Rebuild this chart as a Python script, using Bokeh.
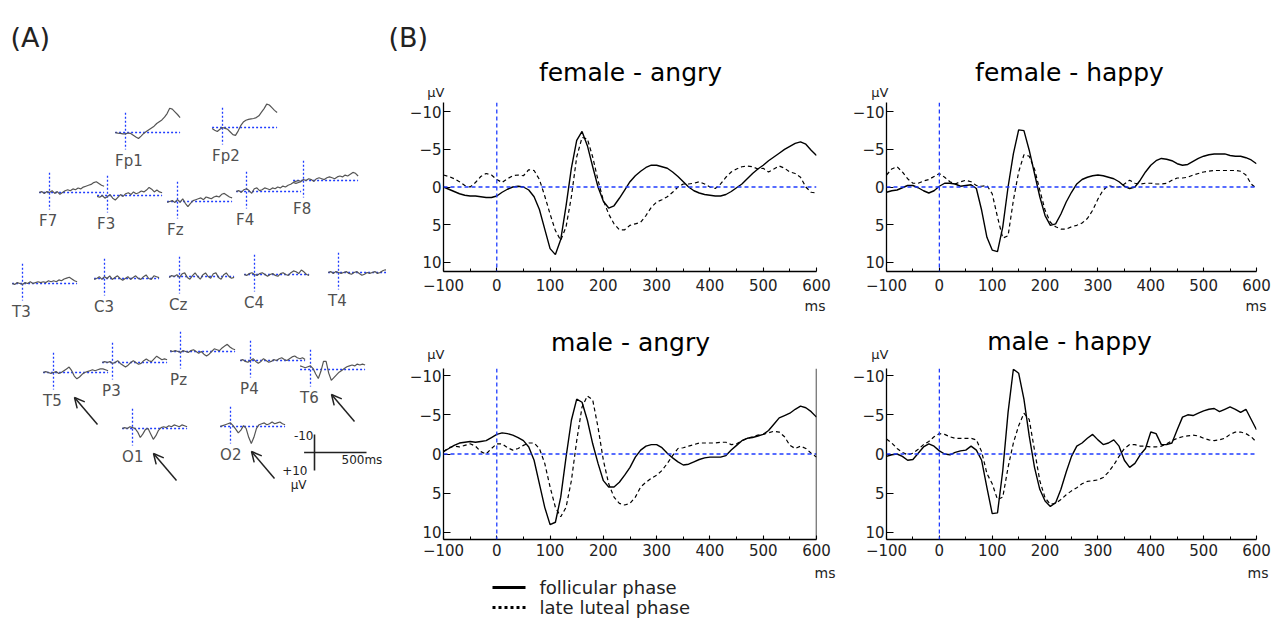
import numpy as np
from bokeh.plotting import figure
from bokeh.models import (Range1d, FixedTicker, Span, Arrow, OpenHead, ColumnDataSource)
from bokeh.layouts import row, column
from bokeh.embed import file_html
from bokeh.resources import INLINE
from bokeh.core.properties import value

FONT = "DejaVu Sans"
BLUE = "#1f3cff"
INK = "#222222"

# ---------------- panel B data (ms, uV; negative up) ----------------
t_ms = list(range(-100, 601, 10))

fa_follicular = [0.0, 0.3, 0.6, 0.9, 1.1, 1.2, 1.2, 1.3, 1.4, 1.4,
                 1.2, 0.7, 0.3, 0.0, -0.1, 0.0, 0.4, 1.3, 3.0, 5.6,
                 8.2, 9.0, 7.0, 2.5, -2.5, -6.2, -7.4, -5.5, -2.7, 0.0,
                 1.9, 2.8, 2.5, 1.5, 0.4, -0.7, -1.5, -2.1, -2.6, -2.9,
                 -2.9, -2.7, -2.5, -2.0, -1.4, -0.7, 0.0, 0.5, 0.8, 1.0,
                 1.1, 1.2, 1.2, 1.0, 0.6, 0.1, -0.4, -1.1, -1.8, -2.4,
                 -2.9, -3.5, -4.0, -4.5, -5.0, -5.4, -5.8, -6.0, -5.7, -4.9,
                 -4.2]
fa_luteal = [-1.6, -1.4, -1.1, -0.7, -0.2, 0.0, -0.6, -1.4, -1.8, -1.6,
             -1.0, -0.6, -1.1, -1.5, -1.6, -1.5, -2.3, -2.2, -1.0, 1.2,
             3.6, 5.8, 7.1, 5.3, 1.3, -4.0, -6.6, -6.4, -4.0, -0.9,
             1.8, 3.6, 4.9, 5.7, 5.7, 5.1, 4.9, 4.7, 3.8, 2.7,
             2.0, 1.7, 1.3, 0.7, 0.0, -0.4, -0.4, -0.5, -0.7, -0.4,
             0.0, 0.2, -0.4, -1.3, -2.0, -2.4, -2.7, -2.8, -2.7, -2.4,
             -2.5, -2.0, -2.4, -2.8, -2.5, -2.0, -1.8, -1.3, 0.0, 0.7,
             0.8]
fh_follicular = [0.7, 0.5, 0.4, 0.1, -0.2, -0.2, 0.1, 0.5, 0.8, 0.5,
                 -0.1, -0.5, -0.5, -0.4, -0.1, -0.2, -0.3, 0.2, 3.1, 6.7,
                 8.4, 8.6, 5.3, 0.0, -4.4, -7.6, -7.5, -4.9, -1.8, 1.3,
                 3.8, 5.1, 4.9, 3.6, 2.0, 0.7, -0.4, -1.0, -1.3, -1.5,
                 -1.6, -1.5, -1.3, -1.1, -0.7, -0.1, 0.2, 0.0, -0.9, -2.0,
                 -2.9, -3.5, -3.8, -3.7, -3.5, -3.1, -2.9, -3.0, -3.4, -3.8,
                 -4.1, -4.3, -4.4, -4.4, -4.4, -4.2, -4.1, -4.1, -3.9, -3.6,
                 -3.1]
fh_luteal = [-1.6, -2.4, -2.7, -2.0, -1.1, -0.5, -0.5, -0.8, -1.0, -1.4,
             -1.8, -1.3, -0.7, -0.4, -0.7, -0.9, -0.7, -0.2, -0.1, -0.2,
             0.9, 4.0, 6.8, 6.5, 1.8, -2.0, -4.3, -4.1, -2.4, 0.4,
             3.1, 4.7, 5.3, 5.6, 5.6, 5.3, 5.1, 4.8, 4.2, 3.1,
             1.6, 0.4, -0.2, 0.0, 0.0, -0.4, -0.9, -0.5, -0.4, -0.5,
             -0.5, -0.4, -0.4, -0.5, -0.9, -1.2, -1.2, -1.3, -1.6, -1.8,
             -2.0, -2.1, -2.2, -2.2, -2.2, -2.2, -2.2, -2.1, -1.6, -0.4,
             0.2]
ma_follicular = [-0.3, -0.7, -1.1, -1.4, -1.5, -1.6, -1.5, -1.6, -1.7, -2.1,
                 -2.5, -2.7, -2.6, -2.4, -2.1, -1.7, -0.9, 0.8, 3.8, 6.8,
                 9.0, 8.7, 5.5, 0.4, -4.3, -7.0, -6.6, -4.3, -1.3, 1.2,
                 3.4, 4.2, 4.2, 3.6, 2.7, 1.7, 0.4, -0.5, -1.0, -1.2,
                 -1.2, -0.8, -0.1, 0.5, 1.0, 1.4, 1.3, 1.0, 0.7, 0.5,
                 0.4, 0.4, 0.4, 0.2, -0.5, -1.1, -1.7, -2.0, -2.1, -2.3,
                 -2.5, -3.0, -3.8, -4.6, -4.9, -5.2, -5.7, -6.1, -5.9, -5.4,
                 -4.7]
ma_luteal = [-0.3, -0.8, -1.0, -0.9, -1.1, -1.3, -1.0, -0.3, 0.0, -0.7,
             -1.3, -1.3, -0.8, -0.5, -0.7, -1.1, -1.4, -1.4, -0.7, 1.2,
             4.2, 6.8, 8.0, 6.8, 3.4, -1.7, -6.0, -7.4, -6.9, -3.4,
             0.8, 3.8, 5.5, 6.3, 6.5, 6.3, 5.5, 4.2, 3.6, 3.1,
             2.7, 2.1, 1.2, 0.2, -0.7, -0.8, -1.0, -1.2, -1.4, -1.4,
             -1.4, -1.4, -1.5, -1.5, -1.2, -1.3, -1.7, -2.0, -2.2, -2.4,
             -2.5, -2.7, -2.9, -2.8, -2.2, -1.1, -0.7, -1.0, -0.7, -0.1,
             0.4]
mh_follicular = [0.3, 0.1, 0.0, 0.3, 0.8, 0.7, -0.1, -0.9, -1.3, -1.0,
                 -0.4, 0.0, 0.1, -0.2, -0.4, -0.5, -1.0, -0.5, 0.8, 4.3,
                 7.6, 7.5, 2.1, -5.3, -10.8, -10.3, -7.0, -2.3, 1.7, 4.5,
                 6.0, 6.7, 6.2, 4.5, 2.3, 0.3, -1.0, -1.4, -2.0, -2.5,
                 -1.8, -1.2, -1.4, -1.8, -1.0, 0.8, 1.7, 1.2, 0.1, -0.7,
                 -2.8, -2.6, -1.2, -1.2, -1.4, -3.1, -4.7, -5.0, -4.9, -5.2,
                 -5.5, -5.7, -5.8, -5.4, -5.7, -6.0, -5.7, -5.3, -5.7, -4.4,
                 -3.1]
mh_luteal = [-1.9, -1.4, -0.7, -0.2, 0.1, -0.1, -0.6, -1.2, -1.6, -2.2,
             -2.6, -2.5, -2.2, -2.0, -2.0, -2.0, -2.0, -1.8, -0.3, 2.5,
             3.8, 5.8, 5.5, 1.7, -1.4, -3.6, -5.2, -4.4, -0.5, 3.4,
             5.6, 6.4, 6.3, 5.8, 5.2, 4.7, 4.3, 3.8, 3.5, 3.4,
             3.3, 3.0, 2.3, 1.4, 0.3, -0.7, -1.2, -1.2, -1.0, -1.0,
             -0.9, -0.9, -1.0, -1.3, -1.7, -2.0, -2.2, -2.3, -2.4, -2.3,
             -2.0, -1.8, -1.7, -1.8, -2.0, -2.5, -2.8, -2.8, -2.6, -2.2,
             -1.5]

panel_titles = ["female - angry", "female - happy", "male - angry", "male - happy"]
legend_labels = ["follicular phase", "late luteal phase"]
x_ticks = [-100, 0, 100, 200, 300, 400, 500, 600]
x_minor = [-50, 50, 150, 250, 350, 450, 550]
y_ticks = [-10, -5, 0, 5, 10]

# ---------------- panel A data (topographic montage) ----------------
t_small = list(range(-100, 526, 25))
electrodes = ["Fp1", "Fp2", "F7", "F3", "Fz", "F4", "F8", "T3", "C3", "Cz",
              "C4", "T4", "T5", "P3", "Pz", "P4", "T6", "O1", "O2"]
# montage position of each electrode's origin (0 ms, 0 uV) on panel A
mont_x = [125, 222, 49, 107, 177, 246, 303, 22, 104, 179, 254, 338, 53, 112, 180, 250, 310, 132, 230]
mont_y = [132, 127, 192, 195, 201, 191, 180, 283, 278, 276, 274, 272, 372, 362, 351, 360, 369, 428, 426]
A_Fp1 = [0, 0.3, 0.5, 0.8, 0.8, 0.3, 0.5, 1.5, 2.5, 3.3, 2.0, 0.5, -0.5, -1.5, -2.5, -3.5, -5.0, -6.0, -7.0, -8.5, -10.5, -13.5, -13.0, -11.5, -10.0, -8.3]
A_Fp2 = [0.5, 1.5, 2.2, 1.0, 0.0, 0.5, 1.0, 2.5, 4.0, 4.4, 2.0, -1.0, -3.0, -4.0, -4.5, -4.8, -5.0, -5.5, -6.5, -8.5, -10.5, -13.0, -12.5, -11.0, -9.5, -8.3]
A_F7 = [0, -0.5, 0.5, -0.5, 0, -1, 0.5, -0.5, 1, 0, -1, -1.5, -1, -2, -1.5, -2.5, -2, -3, -3.5, -4, -4.5, -5.5, -6, -5, -4, -3.5]
A_F3 = [0.5, 1, 0, 1.5, 0.5, -0.5, 1.5, 2.5, 1, -0.5, 0.5, -1, -1.5, -0.5, -2, -1, -1.5, -2.5, -2, -3, -4.5, -3.5, -2, -3, -2, -1.5]
A_Fz = [0.5, 0, -0.5, 0.5, -1, 0.5, -1.5, 1, 2.8, 1, -0.5, -1, -1.5, -2, -1, -2.5, -2, -1.5, -2.5, -3, -2.5, -4, -4.5, -3.5, -2.5, -2]
A_F4 = [0, -0.5, 0.5, -1, -1.5, -0.5, 1, -1.5, -2, -0.5, -1, -2, -1.5, -1, -2, -1.5, -2.5, -2, -3, -2.5, -3.5, -4, -5, -4.5, -5, -5.5]
A_F8 = [1, 0.5, 0, 0.5, -0.5, 0, -1, -0.5, 0.5, -1, -1.5, -1, -0.5, -1.5, -2, -1.5, -1, -2, -2.5, -2, -3, -2.5, -3.5, -4.5, -4, -2.5]
A_T3 = [0, 0.5, -0.5, 0, 0.5, -0.5, 0, -1, 0, -0.5, -1, -0.5, -1, -0.5, -1.5, -1, -1.5, -1, -2, -1.5, -2.5, -3, -3.5, -2.5, -1.5, -1]
A_C3 = [0.5, 0, -1, 0.5, -1, 0, -1.5, 0.5, -0.5, -1.5, 0, 1, 0, -1, 0.5, -0.5, -1.5, 0, 0.5, -1, -2, 0, 0.5, -1.5, -1, -0.5]
A_Cz = [0.5, -0.5, 0, -1, 0.5, -1.5, -2, 0.5, 1.5, -0.5, -2, 0, 1.5, -1, -2, 0, 1, -1.5, -2, 0.5, 1.5, -1, -2, 0, 1, 0.5]
A_C4 = [0, 0.5, -0.5, -1, 0, 0.5, -0.5, -1, 0, 1, 0, -0.5, 0.5, 1, -0.5, -1, 0, 0.5, -1, -2, -1.5, -0.5, -2.5, -1.5, 0, 0.5]
A_T4 = [0, -0.5, 0.5, -0.5, 0, 0.5, 0, -0.5, 0.5, 1, 0, -0.5, 0.5, 1.5, 1, 0, 0.5, 0, -0.5, 0.5, 0, -1, -1.5, -1, -0.5, 0]
A_T5 = [0, -0.5, 0, 0.5, 0, -0.5, 0.5, 0, -1, -2, -3, -1, 2, 3.5, 2.5, 1, 0, -0.5, -1, -1.5, -1, -1.5, -2, -2, -1.5, -1]
A_P3 = [0, -0.5, 0, -0.5, 0.5, 0, -1, 0.5, 1.5, 2.5, 1.5, 0, -1, 0, 1, 0.5, -1, -2, -1, -0.5, -2, -3.5, -2.5, -1.5, -2, -1.5]
A_Pz = [-0.5, 0, -0.5, 0, 0.5, -0.5, 0, 0.5, -0.5, -1, 0, 1, 0, 1.5, 2.5, 1.5, 0, -1.5, -1, -0.5, -2, -3, -4, -2.5, -1.5, -1]
A_P4 = [0, -0.5, 0.5, 1, 0, -1, 0.5, 1.5, 0.5, -1, 0, 1, 0.5, -0.5, 0, -1, -1.5, -0.5, 0, -1, -2, -2.5, -1.5, -1, -1.5, -0.5]
A_T6 = [-2, -1.5, -1, -1.5, -2, -0.5, 2.5, 5, 1, -4.5, -4.5, 2, 6, 4.5, 3, 1.5, 0.5, -0.5, -1.5, -2, -2.5, -2, -3, -2.5, -3, -2.5]
A_O1 = [0, -0.5, 0, -1, -0.5, 0, 2, 5, 3, 0.5, 0, 3, 6, 4, 1, -0.5, -1, -0.5, -1.5, -1, -2, -1.5, -1, -2, -1.5, -1]
A_O2 = [0, -0.5, -1, -1.5, -2, -0.5, 1.5, 3.5, 2, -0.5, 1, 6, 9.5, 6, 1, -1, -1.5, -2, -1, -1.5, -2.5, -1.5, -2, -2.5, -1.5, -1]
small_traces = [A_Fp1, A_Fp2, A_F7, A_F3, A_Fz, A_F4, A_F8, A_T3, A_C3, A_Cz,
                A_C4, A_T4, A_T5, A_P3, A_Pz, A_P4, A_T6, A_O1, A_O2]
arrow_electrodes = ["T5", "T6", "O1", "O2"]
scale_origin = (314, 452)

# montage scaling on panel A: px per ms and px per uV
MS_PX = 0.104
UV_PX = 1.8

W_A = 386          # width of panel A
W1, W2 = 445, 449  # widths of the two columns of panel B
W_B = W1 + W2
H_TOP, H_R1, H_MID, H_R2, H_BOT = 100, 196, 70, 195, 63
H_ALL = H_TOP + H_R1 + H_MID + H_R2 + H_BOT


def canvas(width, height, x0, y0):
    """A blank figure whose data units are page pixels (y downwards)."""
    s = figure(width=width, height=height, x_range=Range1d(x0, x0 + width),
               y_range=Range1d(y0 + height, y0), output_backend="svg",
               toolbar_location=None, min_border=0,
               x_axis_location=None, y_axis_location=None)
    s.outline_line_color = None
    s.grid.visible = False
    return s


def add_texts(s, xs, ys, texts, size, align="left", baseline="middle", color=INK):
    s.text(x=xs, y=ys, text=texts, text_align=align, text_baseline=baseline,
           text_font=value(FONT), text_font_size=value(size), text_color=color)


# ---------------- panel A ----------------
pa = canvas(W_A, H_ALL, 0, 0)
ts = np.array(t_small, dtype=float)
xs, ys = [], []
hx0, hx1, hy, vx, vy0, vy1 = [], [], [], [], [], []
for ex, ey, tr in zip(mont_x, mont_y, small_traces):
    xs.append(list(ex + ts * MS_PX))
    ys.append(list(ey + np.array(tr) * UV_PX))
    hx0.append(ex - 100 * MS_PX); hx1.append(ex + 525 * MS_PX); hy.append(ey)
    vx.append(ex); vy0.append(ey - 11 * UV_PX); vy1.append(ey + 9.5 * UV_PX)

pa.segment(x0=hx0, y0=hy, x1=hx1, y1=hy, line_color=BLUE, line_width=1.3, line_dash="2 2")
pa.segment(x0=vx, y0=vy0, x1=vx, y1=vy1, line_color=BLUE, line_width=1.3, line_dash="2 2")
pa.multi_line(xs=xs, ys=ys, line_color="#555555", line_width=1.2)

add_texts(pa, [ex - 100 * MS_PX for ex in mont_x], [ey + 28 for ey in mont_y],
          electrodes, "15px", color="#505050")

for name in arrow_electrodes:
    i = electrodes.index(name)
    ex, ey = mont_x[i], mont_y[i]
    pa.add_layout(Arrow(end=OpenHead(size=10, line_width=1.5, line_color=INK),
                        x_start=ex + 44, y_start=ey + 52, x_end=ex + 21, y_end=ey + 25,
                        line_width=1.5, line_color=INK))

sx, sy = scale_origin
pa.segment(x0=[sx - 100 * MS_PX, sx], y0=[sy, sy - 10 * UV_PX],
           x1=[sx + 500 * MS_PX, sx], y1=[sy, sy + 10 * UV_PX],
           line_color=INK, line_width=1.6)
add_texts(pa, [sx - 1, sx - 7, sx - 8], [sy - 17, sy + 18, sy + 32],
          ["-10", "+10", "µV"], "12px", align="right")
add_texts(pa, [sx + 27], [sy + 7], ["500ms"], "12px")
add_texts(pa, [10], [37], ["(A)"], "27px", baseline="alphabetic")


# ---------------- panel B ----------------
def erp_fig(fol, lut, width, height, bl, br, bt, bb, yr, standoff, right_spine=False):
    p = figure(width=width, height=height, x_range=Range1d(-100, 600),
               y_range=Range1d(yr, -yr), output_backend="svg", toolbar_location=None,
               min_border_left=bl, min_border_right=br, min_border_top=bt,
               min_border_bottom=bb)
    p.outline_line_color = None
    p.grid.visible = False
    src = ColumnDataSource(dict(t=t_ms, fol=fol, lut=lut))
    p.add_layout(Span(location=0, dimension="width", line_color=BLUE, line_width=1.3, line_dash="4 3"))
    p.add_layout(Span(location=0, dimension="height", line_color=BLUE, line_width=1.3, line_dash="4 3"))
    p.line("t", "lut", source=src, line_color="black", line_width=1.2, line_dash="4 3")
    p.line("t", "fol", source=src, line_color="black", line_width=1.4)
    if right_spine:
        p.add_layout(Span(location=600, dimension="height", line_color="black", line_width=1.4))

    xa = p.xaxis[0]
    xa.ticker = FixedTicker(ticks=x_ticks, minor_ticks=x_minor)
    xa.major_tick_in = 4; xa.major_tick_out = 0
    xa.minor_tick_in = 3; xa.minor_tick_out = 0
    xa.minor_tick_line_color = "black"
    xa.major_label_standoff = standoff
    ya = p.yaxis[0]
    ya.ticker = FixedTicker(ticks=y_ticks)
    ya.major_tick_in = 7; ya.major_tick_out = 0
    ya.minor_tick_line_color = None
    ya.major_label_standoff = 2
    for ax in (xa, ya):
        ax.axis_line_color = "black"; ax.axis_line_width = 1.3
        ax.major_tick_line_color = "black"; ax.major_tick_line_width = 1.1
        ax.major_label_text_font = FONT
        ax.major_label_text_font_size = "15px"
        ax.major_label_text_color = INK
    return p

f1 = erp_fig(fa_follicular, fa_luteal, W1, H_R1, 57, 15, 2, 25, 11.25, 7)
f2 = erp_fig(fh_follicular, fh_luteal, W2, H_R1, 55, 24, 2, 25, 11.25, 7)
f3 = erp_fig(ma_follicular, ma_luteal, W1, H_R2, 57, 15, 2, 22, 10.9, 4, right_spine=True)
f4 = erp_fig(mh_follicular, mh_luteal, W2, H_R2, 55, 24, 2, 22, 10.9, 4)

# text strips around the panels (page-pixel units)
top = canvas(W_B, H_TOP, W_A, 0)
add_texts(top, [388], [37], ["(B)"], "27px", baseline="alphabetic")
add_texts(top, [630, 1069], [72, 72], panel_titles[:2], "25px", align="center",
          baseline="alphabetic", color="black")
add_texts(top, [444, 888], [92, 92], ["µV", "µV"], "13px", align="right")

y_mid = H_TOP + H_R1
mid = canvas(W_B, H_MID, W_A, y_mid)
add_texts(mid, [825, 1266], [305, 305], ["ms", "ms"], "14px", align="right")
add_texts(mid, [630, 1069], [342, 341], panel_titles[2:], "25px", align="center",
          baseline="alphabetic", color="black")
add_texts(mid, [444, 888], [354, 354], ["µV", "µV"], "13px", align="right")

y_bot = y_mid + H_MID + H_R2
bot = canvas(W_B, H_BOT, W_A, y_bot)
add_texts(bot, [835, 1268], [572, 572], ["ms", "ms"], "14px", align="right")
# legend (key lines + labels)
bot.segment(x0=[492], y0=[587], x1=[525], y1=[587], line_color="black", line_width=3)
bot.segment(x0=[492], y0=[607], x1=[525], y1=[607], line_color="black", line_width=3,
            line_dash="3 3")
add_texts(bot, [539, 539], [587, 607], legend_labels, "18px")

layout = row(pa, column(top, row(f1, f2), mid, row(f3, f4), bot))
open("out.html", "w").write(file_html(layout, INLINE))
